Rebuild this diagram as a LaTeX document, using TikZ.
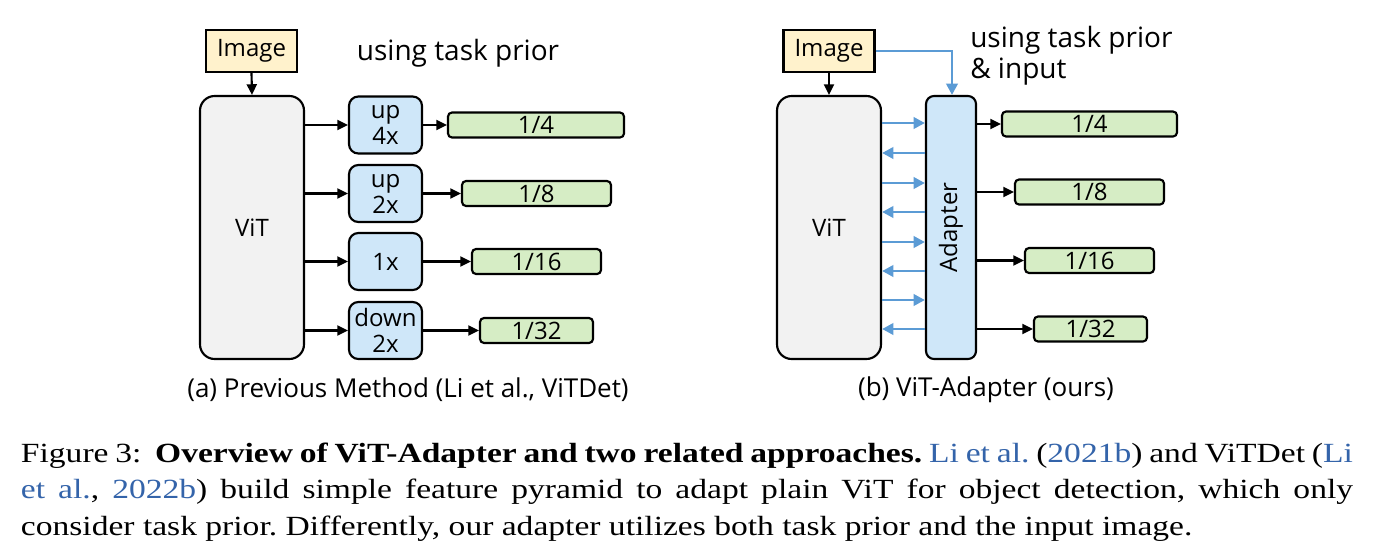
\documentclass[tikz,border=0pt]{standalone}
\usepackage{fontspec}
\setmainfont{Open Sans}
\newfontfamily\capfont[FakeStretch=1.21]{Liberation Serif}
\usetikzlibrary{arrows.meta,calc}
\definecolor{imgfill}{RGB}{255,242,204}
\definecolor{vitfill}{RGB}{242,242,242}
\definecolor{opfill}{RGB}{207,231,249}
\definecolor{featfill}{RGB}{214,237,197}
\definecolor{linkblue}{RGB}{91,155,213}
\definecolor{citeblue}{RGB}{52,100,170}
\begin{document}
\begin{tikzpicture}[x=0.75pt,y=-0.75pt,
  every node/.style={font=\fontsize{18}{20}\selectfont, inner sep=0pt},
  bigtext/.style={font=\fontsize{21}{24}\selectfont},
  subcap/.style={font=\fontsize{19.5}{22}\selectfont},
  imgbox/.style={draw, line width=1.6pt, fill=imgfill, minimum width=91*0.75pt, minimum height=42*0.75pt},
  vitbox/.style={draw, line width=1.6pt, fill=vitfill, rounded corners=11pt, minimum width=104*0.75pt, minimum height=263*0.75pt},
  opbox/.style={draw, line width=1.6pt, fill=opfill, rounded corners=7pt, minimum width=73*0.75pt, minimum height=57*0.75pt, align=center, font=\fontsize{18}{19.5}\selectfont},
  adbox/.style={draw, line width=1.6pt, fill=opfill, rounded corners=6pt, minimum width=50*0.75pt, minimum height=263*0.75pt},
  featbox/.style={draw, line width=1.6pt, fill=featfill, rounded corners=3pt, minimum height=25*0.75pt},
  arr/.style={line width=1.6pt, -{Triangle[length=8pt,width=7.5pt]}},
  barr/.style={line width=2.2pt, draw=linkblue, -{Triangle[length=8.5pt,width=8.5pt]}}
]
\useasboundingbox (0,0) rectangle (1373,554);
\fill[white] (0,0) rectangle (1373,554);

% ---------- panel (a) ----------
\node[imgbox] (imgA) at (251.5,51) {Image};
\node[vitbox] (vitA) at (252,227.5) {ViT};
\node[bigtext, anchor=base] (priorA) at (458,60) {using task prior};

\node[opbox] (up4) at (385.5,125) {up\\4x};
\node[opbox] (up2) at (385.5,193.5) {up\\2x};
\node[opbox] (one) at (385.5,261.5) {1x};
\node[opbox] (down2) at (385.5,330.5) {down\\2x};

\node[featbox, minimum width=176*0.75pt] (fa1) at (536,125) {1/4};
\node[featbox, minimum width=149*0.75pt] (fa2) at (536.5,193.5) {1/8};
\node[featbox, minimum width=129*0.75pt] (fa3) at (536.5,261.5) {1/16};
\node[featbox, minimum width=113*0.75pt] (fa4) at (536.5,330.5) {1/32};

\draw[arr] (imgA.south) -- (vitA.north);
\foreach \b/\f in {up4/fa1, up2/fa2, one/fa3, down2/fa4}{
  \draw[arr] (vitA.east |- \b.west) -- (\b.west);
  \draw[arr] (\b.east) -- (\f.west);
}
\node[subcap] (capA) at (408,390) {(a) Previous Method (Li et al., ViTDet)};

% ---------- panel (b) ----------
\node[imgbox] (imgB) at (829,51) {Image};
\node[vitbox] (vitB) at (829,227.5) {ViT};
\node[adbox] (ad) at (951,227.5) {};
\node[rotate=90] (adlabel) at (ad.center) {Adapter};
\node[bigtext, anchor=base west] (priorB) at (970,47) {using task prior};
\node[bigtext, anchor=base west] (priorB2) at (970,78) {\& input};

\draw[arr] (imgB.south) -- (vitB.north);
\coordinate (bend) at (952,51);
\draw[barr] (imgB.east) -- (bend) -- (bend |- ad.north);

\foreach \y in {123,183,242,300}{
  \draw[barr] (vitB.east |- 0,\y) -- (ad.west |- 0,\y);
}
\foreach \y in {153,212,271,329}{
  \draw[barr] (ad.west |- 0,\y) -- (vitB.east |- 0,\y);
}

\node[featbox, minimum width=175*0.75pt] (fb1) at (1089.5,124) {1/4};
\node[featbox, minimum width=149*0.75pt] (fb2) at (1089.5,192) {1/8};
\node[featbox, minimum width=129*0.75pt] (fb3) at (1089.5,260.5) {1/16};
\node[featbox, minimum width=113*0.75pt] (fb4) at (1090.5,329) {1/32};
\foreach \f in {fb1,fb2,fb3,fb4}{
  \draw[arr] (ad.east |- \f.west) -- (\f.west);
}
\node[subcap] (capB) at (986,390) {(b) ViT-Adapter (ours)};

% ---------- figure caption ----------
\node[anchor=north west, text width=999pt, align=justify,
      font=\capfont\fontsize{20.8}{27.4}\selectfont] (fig) at (20.7,436.4)
{\strut\frenchspacing\hyphenpenalty=10000 Figure 3:\ \ \textbf{Overview of ViT-Adapter and two related approaches.} \textcolor{citeblue}{Li et al.} (\textcolor{citeblue}{2021b}) and ViTDet (\textcolor{citeblue}{Li}\linebreak
\textcolor{citeblue}{et al.}, \textcolor{citeblue}{2022b}) build simple feature pyramid to adapt plain ViT for object detection, which only\linebreak
consider task prior. Differently, our adapter utilizes both task prior and the input image.};
\end{tikzpicture}
\end{document}
